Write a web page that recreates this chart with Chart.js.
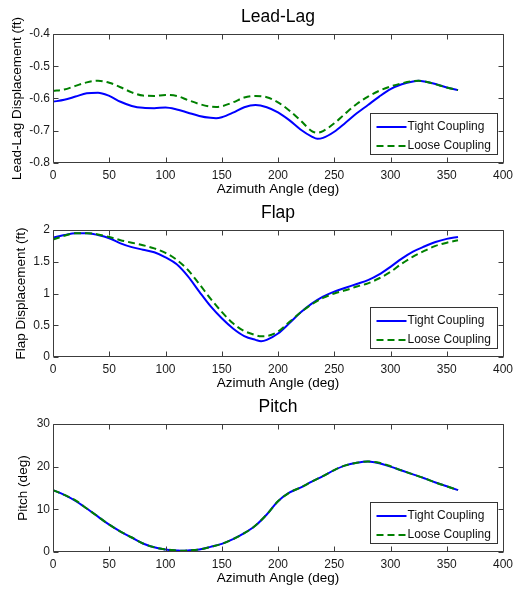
<!DOCTYPE html>
<html>
<head>
<meta charset="utf-8">
<script src="https://cdn.jsdelivr.net/npm/chart.js@4.4.1/dist/chart.umd.min.js"></script>
<style>
  html, body { margin: 0; padding: 0; background: #ffffff; }
  #wrap { position: relative; width: 513px; height: 590px; }
  canvas { position: absolute; left: 0; }
</style>
</head>
<body>
<div id="wrap">
  <canvas id="leadLag" width="513" height="196" style="top:0px"></canvas>
  <canvas id="flap" width="513" height="194" style="top:196px"></canvas>
  <canvas id="pitch" width="513" height="195" style="top:390px"></canvas>
</div>
<script>
// ---- data ----
const SERIES_NAMES = ['Tight Coupling', 'Loose Coupling'];
const X_LABEL = 'Azimuth Angle (deg)';
const X_TICKS = [0, 50, 100, 150, 200, 250, 300, 350, 400];

// Lead-lag displacement (ft)
const leadLagAngle = [0, 10, 20, 30, 40, 50, 60, 70, 80, 90, 100, 110, 120, 130, 140, 145, 150, 160, 170, 180,
  190, 200, 210, 220, 230, 235, 240, 250, 260, 270, 280, 290, 300, 310, 320, 325, 330, 340, 350, 360];
const leadLagTight = [-0.610, -0.604, -0.594, -0.584, -0.582, -0.592, -0.610, -0.623, -0.629, -0.630,
  -0.628, -0.634, -0.644, -0.654, -0.660, -0.661, -0.658, -0.644, -0.627, -0.620,
  -0.627, -0.643, -0.667, -0.696, -0.718, -0.725, -0.722, -0.703, -0.675, -0.646,
  -0.620, -0.594, -0.571, -0.556, -0.547, -0.545, -0.547, -0.555, -0.566, -0.574];
const leadLagLoose = [-0.577, -0.572, -0.561, -0.550, -0.545, -0.551, -0.565, -0.581, -0.591, -0.592,
  -0.589, -0.592, -0.605, -0.617, -0.625, -0.626, -0.624, -0.612, -0.597, -0.592,
  -0.596, -0.612, -0.637, -0.668, -0.701, -0.706, -0.701, -0.677, -0.646, -0.617,
  -0.594, -0.576, -0.563, -0.553, -0.546, -0.545, -0.547, -0.556, -0.566, -0.574];
const leadLagTicks = [-0.8, -0.7, -0.6, -0.5, -0.4];

// Flap displacement (ft)
const flapAngle = [0, 10, 20, 30, 40, 50, 60, 70, 80, 90, 100, 110, 120, 130, 140, 150, 160, 170, 180, 185,
  190, 200, 210, 220, 230, 240, 250, 260, 270, 280, 290, 300, 310, 320, 330, 340, 350, 360];
const flapTight = [1.88, 1.92, 1.95, 1.95, 1.92, 1.87, 1.79, 1.73, 1.69, 1.65, 1.57, 1.46, 1.27, 1.03, 0.80,
  0.61, 0.45, 0.33, 0.27, 0.25, 0.27, 0.37, 0.53, 0.70, 0.84, 0.95, 1.03, 1.09, 1.15, 1.21, 1.30,
  1.42, 1.55, 1.66, 1.74, 1.81, 1.86, 1.89];
const flapLoose = [1.85, 1.91, 1.95, 1.95, 1.93, 1.89, 1.84, 1.80, 1.76, 1.71, 1.64, 1.53, 1.37, 1.15, 0.92,
  0.71, 0.53, 0.41, 0.345, 0.325, 0.33, 0.40, 0.55, 0.70, 0.83, 0.93, 1.00, 1.05, 1.11, 1.16, 1.24,
  1.34, 1.47, 1.58, 1.67, 1.75, 1.80, 1.84];
const flapTicks = [0, 0.5, 1, 1.5, 2];

// Pitch (deg)
const pitchAngle = [0, 10, 20, 30, 40, 50, 60, 70, 80, 90, 100, 110, 115, 120, 130, 140, 150, 160, 170, 180,
  190, 200, 210, 220, 230, 240, 250, 260, 270, 280, 290, 300, 310, 320, 330, 340, 350, 360];
const pitchTight = [14.5, 13.4, 12.0, 10.2, 8.3, 6.4, 4.8, 3.4, 2.0, 1.1, 0.6, 0.38, 0.3, 0.36, 0.6, 1.2,
  1.9, 3.0, 4.4, 6.2, 8.8, 11.9, 13.9, 15.1, 16.5, 17.8, 19.2, 20.3, 20.9, 21.2, 20.8,
  20.0, 19.1, 18.2, 17.3, 16.3, 15.4, 14.5];
const pitchLoose = [14.5, 13.4, 12.1, 10.2, 8.3, 6.4, 4.8, 3.4, 2.0, 1.1, 0.6, 0.36, 0.28, 0.34, 0.6, 1.2,
  1.9, 3.0, 4.4, 6.2, 8.8, 11.9, 13.9, 15.1, 16.5, 17.8, 19.2, 20.3, 20.9, 21.2, 20.9,
  20.1, 19.1, 18.2, 17.3, 16.3, 15.4, 14.5];
const pitchTicks = [0, 10, 20, 30];

// ---- styling ----
const FONT = '"Liberation Sans", Arial, Helvetica, sans-serif';
const TIGHT_COLOR = '#0000ff';
const LOOSE_COLOR = '#008000';
const LOOSE_DASH = [7, 4];
const AXIS_COLOR = '#3c3c3c';

function points(xs, ys) {
  return xs.map((x, i) => ({ x: x, y: ys[i] }));
}

function fmt(v) {
  return String(Math.round(v * 100) / 100);
}

// Axes box with inward tick marks on all four sides, plus an inset legend
const axesBox = {
  id: 'axesBox',
  afterDraw(chart) {
    const { ctx, chartArea: a, scales } = chart;
    const L = Math.round(a.left) + 0.5;
    const R = Math.round(a.right) + 0.5;
    const T = Math.round(a.top) + 0.5;
    const B = Math.round(a.bottom) - 0.5;
    const tick = 5;
    ctx.save();
    ctx.strokeStyle = AXIS_COLOR;
    ctx.lineWidth = 1;
    ctx.beginPath();
    ctx.rect(L, T, R - L, B - T);
    scales.x.ticks.forEach(t => {
      const px = Math.round(scales.x.getPixelForValue(t.value)) + 0.5;
      ctx.moveTo(px, B); ctx.lineTo(px, B - tick);
      ctx.moveTo(px, T); ctx.lineTo(px, T + tick);
    });
    scales.y.ticks.forEach(t => {
      const py = Math.round(scales.y.getPixelForValue(t.value)) + 0.5;
      ctx.moveTo(L, py); ctx.lineTo(L + tick, py);
      ctx.moveTo(R, py); ctx.lineTo(R - tick, py);
    });
    ctx.stroke();

    // legend
    const w = 127, h = 41;
    const bx = Math.round(a.right - 6.5 - w) + 0.5;
    const by = Math.round(a.bottom - 9 - h) + 0.5;
    ctx.fillStyle = '#ffffff';
    ctx.fillRect(bx, by, w, h);
    ctx.strokeStyle = '#333333';
    ctx.strokeRect(bx, by, w, h);
    const rows = [by + 13, by + 32];
    chart.data.datasets.forEach((ds, i) => {
      const y = Math.round(rows[i]);
      ctx.beginPath();
      ctx.strokeStyle = ds.borderColor;
      ctx.lineWidth = ds.borderWidth;
      ctx.setLineDash(ds.borderDash || []);
      ctx.moveTo(bx + 6, y);
      ctx.lineTo(bx + 36, y);
      ctx.stroke();
      ctx.setLineDash([]);
      ctx.fillStyle = '#111111';
      ctx.font = '12px ' + FONT;
      ctx.textAlign = 'left';
      ctx.textBaseline = 'middle';
      ctx.fillText(ds.label, bx + 37, y);
    });
    ctx.restore();
  }
};

function makePanel(id, title, yLabel, yLabelPad, xs, tight, loose, yTicks) {
  return new Chart(document.getElementById(id), {
    type: 'line',
    data: {
      datasets: [
        { label: SERIES_NAMES[0], data: points(xs, tight), borderColor: TIGHT_COLOR, borderWidth: 2,
          pointRadius: 0, fill: false, cubicInterpolationMode: 'monotone', order: 1 },
        { label: SERIES_NAMES[1], data: points(xs, loose), borderColor: LOOSE_COLOR, borderWidth: 2,
          borderDash: LOOSE_DASH, pointRadius: 0, fill: false, cubicInterpolationMode: 'monotone', order: 0 }
      ]
    },
    options: {
      responsive: false,
      animation: false,
      devicePixelRatio: 1,
      events: [],
      layout: { padding: { left: 0, right: 10, top: 0, bottom: 0 } },
      plugins: {
        legend: { display: false },
        tooltip: { enabled: false },
        title: {
          display: true, text: title, fullSize: false, color: '#000000',
          font: { family: FONT, size: 17.5, weight: 'normal', lineHeight: 1.2 },
          padding: { top: 6.6, bottom: 6.4 }
        }
      },
      scales: {
        x: {
          type: 'linear', min: X_TICKS[0], max: X_TICKS[X_TICKS.length - 1],
          afterBuildTicks(s) { s.ticks = X_TICKS.map(v => ({ value: v })); },
          afterFit(s) { s.height = 33; s.paddingLeft = 0; s.paddingRight = 0; },
          grid: { display: false, drawTicks: false },
          border: { display: false },
          ticks: { color: '#1a1a1a', padding: 5, maxRotation: 0, autoSkip: false,
            font: { family: FONT, size: 12 }, callback: v => fmt(v) },
          title: { display: true, text: X_LABEL, color: '#000000',
            font: { family: FONT, size: 13.5, lineHeight: 1 }, padding: { top: 0, bottom: 0 } }
        },
        y: {
          type: 'linear', min: yTicks[0], max: yTicks[yTicks.length - 1],
          afterBuildTicks(s) { s.ticks = yTicks.map(v => ({ value: v })); },
          afterFit(s) { s.width = 53; s.paddingTop = 0; s.paddingBottom = 0; },
          grid: { display: false, drawTicks: false },
          border: { display: false },
          ticks: { color: '#1a1a1a', padding: 3, autoSkip: false,
            font: { family: FONT, size: 12 }, callback: v => fmt(v) },
          title: { display: true, text: yLabel, color: '#000000',
            font: { family: FONT, size: 13.5, lineHeight: 1 }, padding: { top: yLabelPad, bottom: 0 } }
        }
      }
    },
    plugins: [axesBox]
  });
}

makePanel('leadLag', 'Lead-Lag', 'Lead-Lag Displacement (ft)', 10.9, leadLagAngle, leadLagTight, leadLagLoose, leadLagTicks);
makePanel('flap', 'Flap', 'Flap Displacement (ft)', 14.2, flapAngle, flapTight, flapLoose, flapTicks);
makePanel('pitch', 'Pitch', 'Pitch (deg)', 16.8, pitchAngle, pitchTight, pitchLoose, pitchTicks);
</script>
</body>
</html>
